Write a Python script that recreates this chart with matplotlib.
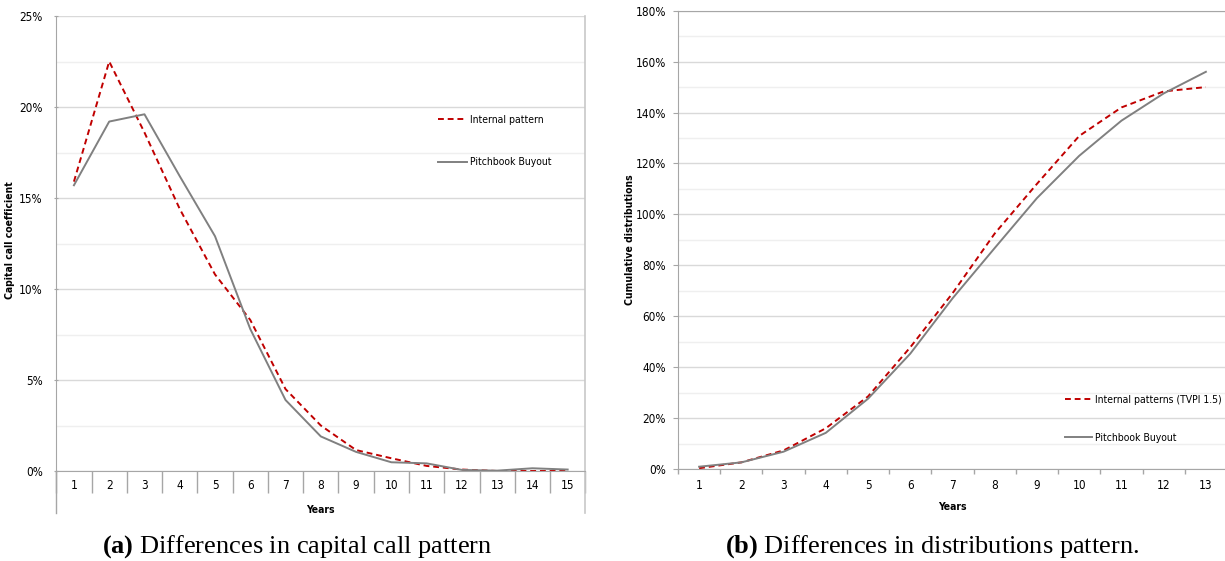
import numpy as np
import matplotlib
matplotlib.use('Agg')
import matplotlib.pyplot as plt
from matplotlib import font_manager
from matplotlib.ticker import FixedLocator, MultipleLocator, FuncFormatter

# pick a narrow sans if one is installed
fonts = font_manager.fontManager.ttflist
names = {f.name for f in fonts}
STRETCH = 'normal'
if 'Liberation Sans Narrow' in names:
    SANS = 'Liberation Sans Narrow'
elif any(f.name == 'DejaVu Sans' and f.stretch in ('condensed', 'semi-condensed') for f in fonts):
    SANS = 'DejaVu Sans'
    STRETCH = 'condensed'
else:
    SANS = 'Liberation Sans'
plt.rcParams['font.family'] = [SANS, 'DejaVu Sans']
plt.rcParams['font.stretch'] = STRETCH
plt.rcParams['mathtext.fontset'] = 'custom'
plt.rcParams['mathtext.rm'] = 'Liberation Serif'
plt.rcParams['mathtext.bf'] = 'Liberation Serif:bold'

# (a) capital call coefficient, % per year
years_a = np.arange(1, 16)
internal_a = [15.9, 22.5, 18.6, 14.4, 10.8, 8.3, 4.5, 2.5, 1.15, 0.7, 0.28, 0.08, 0.0, 0.0, 0.0]
pitchbook_a = [15.7, 19.2, 19.6, 16.2, 12.9, 7.8, 3.9, 1.9, 1.05, 0.48, 0.42, 0.06, 0.02, 0.15, 0.08]

# (b) cumulative distributions, %
years_b = np.arange(1, 14)
internal_b = [0.3, 2.6, 7.3, 16.0, 28.5, 47.8, 69.0, 92.5, 112.0, 130.8, 142.0, 148.3, 150.0]
pitchbook_b = [0.9, 2.6, 6.8, 14.2, 27.6, 45.3, 67.0, 86.8, 106.4, 123.0, 136.8, 147.5, 156.0]

RED = '#C00000'
GREY = '#808080'
AXIS = '#a6a6a6'
W, H = 1225, 561
TS = 8.5  # tick label size

fig = plt.figure(figsize=(W / 100, H / 100), dpi=100)
pct = FuncFormatter(lambda v, p: f'{v:.0f}%')

# ---------------- left chart ----------------
ax1 = fig.add_axes([56.3 / W, 1 - 471 / H, 529 / W, 455 / H])
ax1.plot(years_a, internal_a, color=RED, lw=1.4, dashes=(3, 2), label='Internal pattern')
ax1.plot(years_a, pitchbook_a, color=GREY, lw=1.4, label='Pitchbook Buyout')
ax1.set_xlim(0.5, 15.5)
ax1.set_ylim(0, 25)
ax1.yaxis.set_major_locator(MultipleLocator(5))
ax1.yaxis.set_minor_locator(MultipleLocator(2.5))
ax1.yaxis.set_major_formatter(pct)
ax1.grid(True, which='major', axis='y', color='#d9d9d9', lw=1)
ax1.grid(True, which='minor', axis='y', color='#efefef', lw=1)
ax1.set_axisbelow(True)
ax1.xaxis.set_major_locator(FixedLocator(years_a))
ax1.xaxis.set_minor_locator(FixedLocator(np.arange(0.5, 16, 1)))
ax1.tick_params(axis='x', which='major', length=0, pad=6, labelsize=TS)
ax1.tick_params(axis='x', which='minor', length=16, color=AXIS, width=1)
ax1.tick_params(axis='y', which='major', length=3.5, direction='inout', color=AXIS, pad=8, labelsize=TS)
ax1.tick_params(axis='y', which='minor', length=0)
for s in ['top', 'right']:
    ax1.spines[s].set_visible(False)
ax1.spines['left'].set_bounds(0, 25)
ax1.spines['left'].set_color(AXIS)
ax1.spines['bottom'].set_color(AXIS)
ax1.plot([0, 0], [0, -0.092], transform=ax1.transAxes, color=AXIS, lw=1, clip_on=False)
ax1.plot([1, 1], [1, -0.092], transform=ax1.transAxes, color='#c8c8c8', lw=1.2, clip_on=False)
ax1.set_xlabel('Years', fontsize=7.5, fontweight='bold')
ax1.xaxis.set_label_coords(0.5, -(505 - 471) / 455)
ax1.set_ylabel('Capital call coefficient', fontsize=7.5, fontweight='bold')
ax1.yaxis.set_label_coords(-(56.3 - 15) / 529, (471 - 240) / 455)
ax1.legend(loc='upper left', bbox_to_anchor=(438 / W, 1 - 115 / H), bbox_transform=fig.transFigure,
           frameon=False, fontsize=7.5, borderpad=0, borderaxespad=0,
           handlelength=2.8, handletextpad=0.3, labelspacing=3.1)

# ---------------- right chart ----------------
ax2 = fig.add_axes([678 / W, 1 - 469 / H, 549 / W, 458.3 / H])
ax2.plot(years_b, internal_b, color=RED, lw=1.4, dashes=(3, 2), label='Internal patterns (TVPI 1.5)')
ax2.plot(years_b, pitchbook_b, color=GREY, lw=1.4, label='Pitchbook Buyout')
ax2.set_xlim(0.5, 13.5)
ax2.set_ylim(0, 180)
ax2.yaxis.set_major_locator(MultipleLocator(20))
ax2.yaxis.set_minor_locator(MultipleLocator(10))
ax2.yaxis.set_major_formatter(pct)
ax2.grid(True, which='major', axis='y', color='#d9d9d9', lw=1)
ax2.grid(True, which='minor', axis='y', color='#efefef', lw=1)
ax2.set_axisbelow(True)
ax2.xaxis.set_major_locator(FixedLocator(years_b))
ax2.xaxis.set_minor_locator(FixedLocator(np.arange(0.5, 14, 1)))
ax2.tick_params(axis='x', which='major', length=0, pad=7, labelsize=TS)
ax2.tick_params(axis='x', which='minor', length=3.5, color=AXIS, width=1)
ax2.tick_params(axis='y', which='major', length=3.5, color=AXIS, pad=5, labelsize=TS)
ax2.tick_params(axis='y', which='minor', length=0)
ax2.spines['right'].set_visible(False)
for s in ['top', 'left', 'bottom']:
    ax2.spines[s].set_color(AXIS)
ax2.set_xlabel('Years', fontsize=7.5, fontweight='bold')
ax2.xaxis.set_label_coords(0.5, -(502 - 469) / 458.3)
ax2.set_ylabel('Cumulative distributions', fontsize=7.5, fontweight='bold')
ax2.yaxis.set_label_coords(-(678 - 635) / 549, (469 - 240) / 458.3)
ax2.legend(loc='upper left', bbox_to_anchor=(1065 / W, 1 - 395 / H), bbox_transform=fig.transFigure,
           frameon=False, fontsize=7.5, borderpad=0, borderaxespad=0,
           handlelength=2.6, handletextpad=0.3, labelspacing=2.7)

# captions
cap = dict(fontsize=19, ha='center', va='center')
fig.text(297 / W, 1 - 547 / H, r'$\mathbf{(a)}$ Differences in capital call pattern', family='Liberation Serif', **cap)
fig.text(932 / W, 1 - 547 / H, r'$\mathbf{(b)}$ Differences in distributions pattern.', family='Liberation Serif', **cap)

fig.savefig('out.png', dpi=100)
